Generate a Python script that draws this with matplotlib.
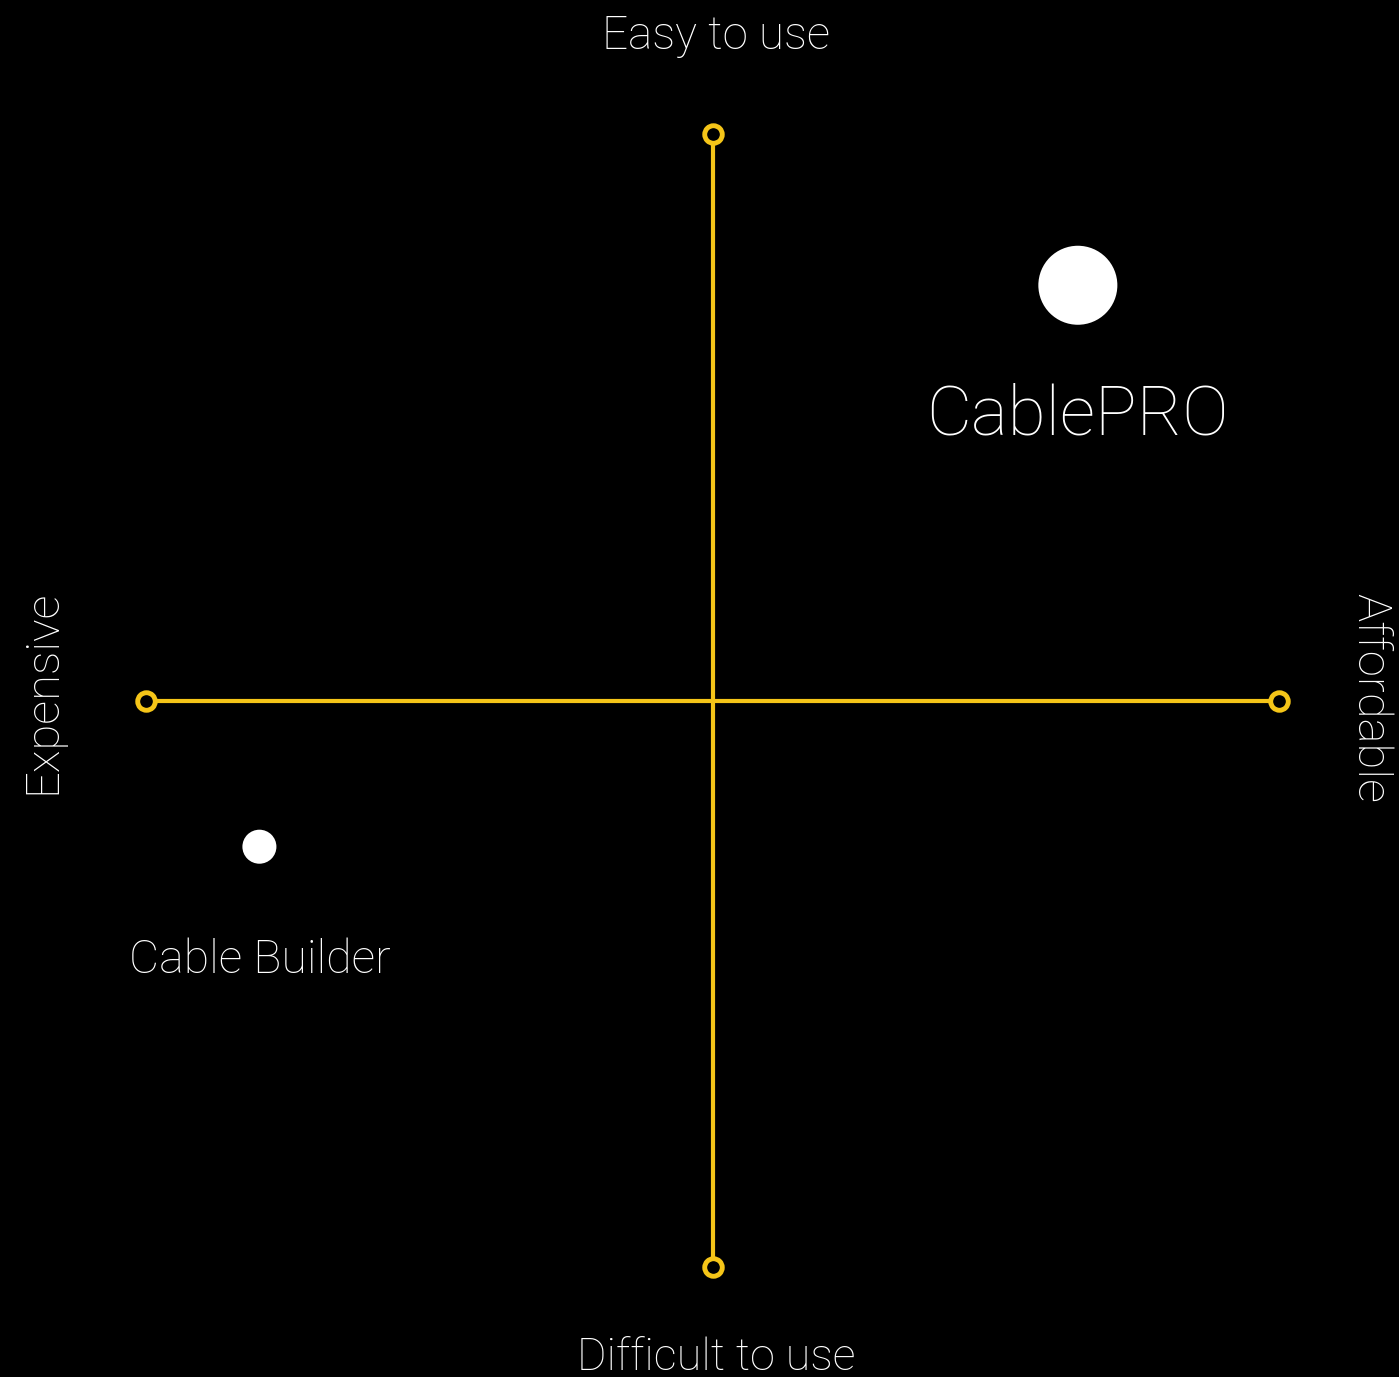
import matplotlib
matplotlib.use("Agg")
import matplotlib.pyplot as plt

products = ["CablePRO", "Cable Builder"]
affordability = [0.645, -0.80]
ease = [0.733, -0.258]
bubble_sizes = [3237, 600]
label_offsets = [-0.230, -0.200]
label_sizes = [50, 33.5]

axis_labels = {"top": "Easy to use", "bottom": "Difficult to use",
               "left": "Expensive", "right": "Affordable"}

YELLOW = "#f5c518"
plt.rcParams['font.family'] = ['Roboto', 'DejaVu Sans']

fig = plt.figure(figsize=(13.99, 13.77), dpi=100, facecolor="black")
ax = fig.add_axes([0, 0, 1, 1])
ax.set_facecolor("black")
ax.set_xlim(-1.258, 1.212)
ax.set_ylim(-1.194, 1.2365)
ax.axis("off")

# cross lines
ax.plot([-1, 1], [0, 0], color=YELLOW, lw=3, zorder=1, solid_capstyle="butt")
ax.plot([0, 0], [-1, 1], color=YELLOW, lw=3, zorder=1, solid_capstyle="butt")
ax.scatter([-1, 1, 0, 0], [0, 0, -1, 1], s=160, facecolor="black",
           edgecolor=YELLOW, linewidth=3.5, zorder=2)

# products
ax.scatter(affordability, ease, s=bubble_sizes, color="white", zorder=3, linewidths=0)
for name, x, y, off, fs in zip(products, affordability, ease, label_offsets, label_sizes):
    ax.text(x, y + off, name, color="white", fontsize=fs, weight="light",
            ha="center", va="center", zorder=4)

ax.text(0.006, 1.173, axis_labels["top"], color="white", fontsize=33, weight="light",
        ha="center", va="center")
ax.text(0.006, -1.160, axis_labels["bottom"], color="white", fontsize=32.5, weight="light",
        ha="center", va="center")
ax.text(-1.1836, 0.015, axis_labels["left"], color="white", fontsize=34, weight="light",
        ha="center", va="center", rotation=90)
ax.text(1.1606, 0.005, axis_labels["right"], color="white", fontsize=34, weight="light",
        ha="center", va="center", rotation=-90)

fig.savefig("out.png", dpi=100, facecolor="black")
